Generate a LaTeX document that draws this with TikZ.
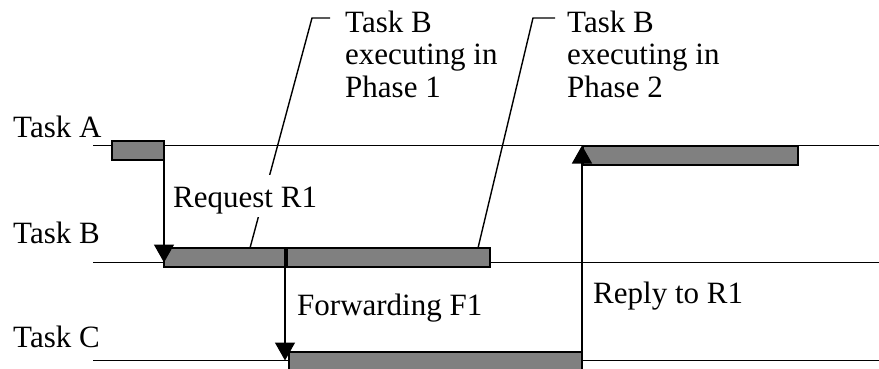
\documentclass[tikz,border=0pt]{standalone}
\usepackage{fontspec}
\setmainfont{Liberation Serif}
\usetikzlibrary{arrows.meta}
\definecolor{barfill}{HTML}{808080}
\begin{document}
\begin{tikzpicture}[x=1pt,y=-1pt,
  bar/.style={draw=black,fill=barfill,line width=1.4pt,inner sep=0pt,outer sep=0pt,anchor=north west,minimum height=19pt},
  lbl/.style={font=\fontsize{31}{32.5}\selectfont,inner sep=0pt,anchor=base west},
  callout/.style={font=\fontsize{31}{32.5}\selectfont,inner sep=0pt,anchor=north west,align=left},
  timeline/.style={line width=1.6pt},
  leader/.style={line width=1.4pt},
  msg/.style={line width=1.5pt,-{Triangle[length=18pt,width=20pt]}},
]
\useasboundingbox (0,0) rectangle (879,369);

% time lines of the three tasks
\coordinate (As) at (93,145.5);  \coordinate (Ae) at (879,145.5);
\coordinate (Bs) at (93,262.5);  \coordinate (Be) at (879,262.5);
\coordinate (Cs) at (93,360.5);  \coordinate (Ce) at (879,360.5);
\draw[timeline] (As) -- (Ae);
\draw[timeline] (Bs) -- (Be);
\draw[timeline] (Cs) -- (Ce);

\node[lbl] (tA) at (13,137) {Task A};
\node[lbl] (tB) at (13,243) {Task B};
\node[lbl] (tC) at (13,347) {Task C};

% leader lines of the two phase notes
\coordinate (p1a) at (250,248); \coordinate (p1b) at (312,18); \coordinate (p1c) at (330,18);
\coordinate (p2a) at (478,248); \coordinate (p2b) at (533,18); \coordinate (p2c) at (555,18);
\draw[leader] (p1a) -- (p1b) -- (p1c);
\draw[leader] (p2a) -- (p2b) -- (p2c);

\node[callout] (ph1) at (345,10.5) {Task B\\executing in\\Phase 1};
\node[callout] (ph2) at (567,10.5) {Task B\\executing in\\Phase 2};

% execution bars
\node[bar,minimum width=52pt]  (A1) at (112,141) {};
\node[bar,minimum width=215pt] (A2) at (583,146) {};
\node[bar,minimum width=121pt] (B1) at (164,248) {};
\node[bar,minimum width=203pt] (B2) at (287,248) {};
\node[bar,minimum width=293pt] (C1) at (289,352) {};

% messages
\draw[msg] (A1.south east) -- (A1.south east |- Bs);
\draw[msg] (B1.south east) -- (B1.south east |- Cs);
\draw[msg] (C1.south east) -- (C1.south east |- As);

\node[lbl,fill=white,text height=32pt,text depth=10pt] (req) at (173,207) {Request R1};
\node[lbl] (fwd) at (297,315) {Forwarding F1};
\node[lbl] (rep) at (593,303) {Reply to R1};
\end{tikzpicture}
\end{document}
